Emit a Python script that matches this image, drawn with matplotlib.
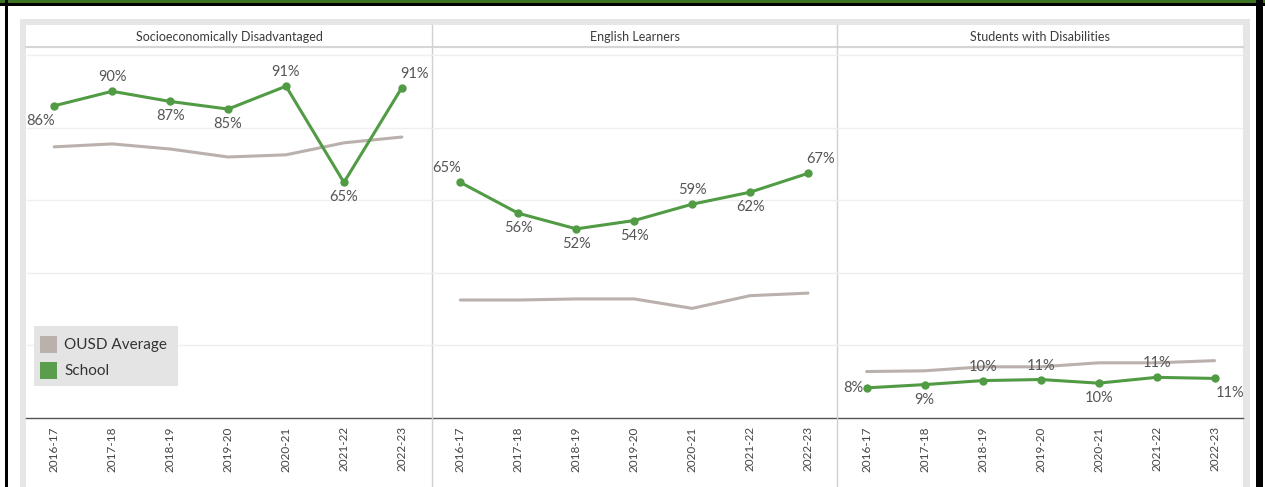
import matplotlib.pyplot as plt
from matplotlib.patches import Rectangle
from matplotlib.lines import Line2D

plt.rcParams['font.family'] = ['Lato', 'DejaVu Sans']

years = ['2016-17', '2017-18', '2018-19', '2019-20', '2020-21', '2021-22', '2022-23']
groups = ['Socioeconomically Disadvantaged', 'English Learners', 'Students with Disabilities']

school_sed = [86.0, 90.0, 87.2, 85.1, 91.4, 64.9, 91.0]
school_el = [64.9, 56.4, 52.1, 54.4, 58.9, 62.2, 67.4]
school_swd = [8.3, 9.2, 10.3, 10.6, 9.6, 11.2, 10.9]

ousd_sed = [74.7, 75.5, 74.1, 71.9, 72.5, 75.8, 77.4]
ousd_el = [32.5, 32.5, 32.8, 32.8, 30.2, 33.7, 34.4]
ousd_swd = [12.8, 13.0, 14.1, 14.1, 15.2, 15.2, 15.8]

school = [school_sed, school_el, school_swd]
ousd = [ousd_sed, ousd_el, ousd_swd]

# label placement per point (Tableau-like)
label_pos = [
    ['bl', 'a', 'b', 'b', 'a', 'b', 'ar'],
    ['al', 'b', 'b', 'b', 'a', 'b', 'ar'],
    ['l', 'b', 'a', 'a', 'b', 'a', 'br'],
]
offsets = {'a': (0, 14), 'b': (0, -15), 'al': (-14, 14), 'bl': (-14, -15),
           'ar': (13, 14), 'br': (15, -15), 'l': (-3, 0)}

GREEN = '#519b45'
GREY = '#bab0ac'
W, H = 1265, 487

fig = plt.figure(figsize=(W / 100, H / 100), dpi=100)


def fx(px):
    return px / W


def fy(py):
    return 1 - py / H


def rect(x0, y0, x1, y1, color, z=-10):
    fig.patches.append(Rectangle((fx(x0), fy(y1)), fx(x1) - fx(x0), fy(y0) - fy(y1),
                                 transform=fig.transFigure, color=color, lw=0, zorder=z))


def hline(x0, x1, y, color, lw=1):
    fig.lines.append(Line2D([fx(x0), fx(x1)], [fy(y), fy(y)], transform=fig.transFigure,
                            color=color, lw=lw, zorder=-5))


def vline(x, y0, y1, color, lw=1):
    fig.lines.append(Line2D([fx(x), fx(x)], [fy(y0), fy(y1)], transform=fig.transFigure,
                            color=color, lw=lw, zorder=-5))


# outer frame
rect(0, 0, W, 3, '#3b7420')
rect(0, 3, W, 6, '#000000')
rect(5, 0, 8, H, '#000000')
rect(1256, 0, 1263, H, '#000000')
rect(20, 19, 1250, H, '#e6e6e6')
rect(26, 25, 1243, H, '#ffffff')
hline(26, 1243, 47, '#d6d6d6', lw=1.5)
hline(26, 1243, 418, '#555555', lw=1)
for x in [432, 837]:
    vline(x, 25, H, '#d0d0d0', lw=1)

edges = [27, 432, 837, 1243]
xlims = [(-0.47, 6.52), (-0.49, 6.5), (-0.51, 6.49)]
for i in range(3):
    x0, x1 = edges[i], edges[i + 1]
    ax = fig.add_axes([fx(x0), fy(418), fx(x1) - fx(x0), fy(47) - fy(418)])
    ax.set_xlim(*xlims[i])
    ax.set_ylim(0, 102.2)
    ax.patch.set_alpha(0)
    for s in ax.spines.values():
        s.set_visible(False)
    for g in [20, 40, 60, 80, 100]:
        ax.axhline(g, color='#efefef', lw=1, zorder=0)
    ax.set_yticks([])
    ax.set_xticks(range(len(years)))
    ax.set_xticklabels(years, rotation=90, fontsize=8.5, color='#444444', va='top')
    ax.tick_params(axis='x', length=0, pad=6)

    ax.plot(range(len(years)), ousd[i], color=GREY, lw=2.2, zorder=2, solid_capstyle='round')
    ax.plot(range(len(years)), school[i], color=GREEN, lw=2.2, marker='o', ms=5, zorder=3)
    for j, v in enumerate(school[i]):
        pos = label_pos[i][j]
        dx, dy = offsets[pos]
        ha = 'right' if pos == 'l' else 'center'
        ax.annotate(f'{round(v)}%', (j, v), xytext=(dx, dy), textcoords='offset pixels',
                    ha=ha, va='center', fontsize=10.5, color='#555555', annotation_clip=False)

    fig.text(fx((x0 + x1) / 2), fy(37), groups[i], ha='center', va='center', fontsize=9, color='#3a3a3a')

# legend box
rect(34, 326, 178, 386, '#e4e4e4', z=5)
rect(40, 336, 57, 353, GREY, z=6)
rect(40, 362, 57, 379, '#5a9e4d', z=6)
fig.text(fx(64), fy(345), 'OUSD Average', ha='left', va='center', fontsize=11, color='#333333', zorder=7)
fig.text(fx(64), fy(371), 'School', ha='left', va='center', fontsize=11, color='#333333', zorder=7)

fig.savefig('out.png', dpi=100)
